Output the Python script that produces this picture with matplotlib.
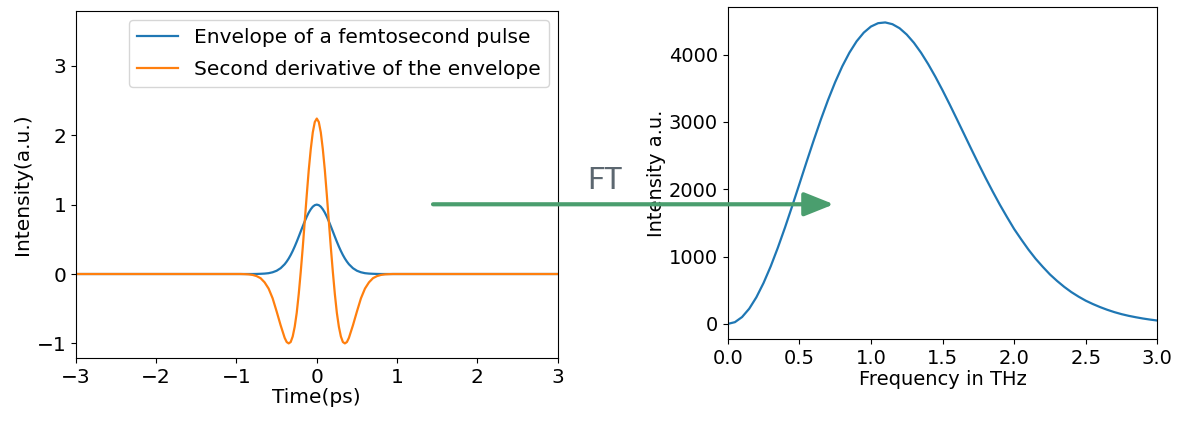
import matplotlib
matplotlib.use("Agg")
import matplotlib.pyplot as plt

# ---- Left panel data ----
time_ps = [-3.0, -1.0, -0.95, -0.9, -0.85, -0.8, -0.75, -0.7, -0.65, -0.6, -0.55, -0.5, -0.45,
           -0.4, -0.375, -0.35, -0.325, -0.3, -0.275, -0.25, -0.225, -0.2, -0.175, -0.15,
           -0.125, -0.1, -0.075, -0.05, -0.025, 0.0, 0.025, 0.05, 0.075, 0.1, 0.125, 0.15,
           0.175, 0.2, 0.225, 0.25, 0.275, 0.3, 0.325, 0.35, 0.375, 0.4, 0.45, 0.5, 0.55,
           0.6, 0.65, 0.7, 0.75, 0.8, 0.85, 0.9, 0.95, 1.0, 3.0]

envelope = [0.0, 0.0, 0.0, 0.0, 0.0, 0.0, 0.001, 0.003, 0.006, 0.012, 0.025, 0.047, 0.084,
            0.141, 0.179, 0.223, 0.274, 0.332, 0.396, 0.465, 0.538, 0.613, 0.687, 0.759,
            0.826, 0.885, 0.933, 0.970, 0.992, 1.0, 0.992, 0.970, 0.933, 0.885, 0.826, 0.759,
            0.687, 0.613, 0.538, 0.465, 0.396, 0.332, 0.274, 0.223, 0.179, 0.141, 0.084, 0.047,
            0.025, 0.012, 0.006, 0.003, 0.001, 0.0, 0.0, 0.0, 0.0, 0.0, 0.0]

second_deriv = [0.0, 0.0, 0.0, -0.002, -0.005, -0.013, -0.03, -0.06, -0.12, -0.21, -0.35, -0.54,
                -0.74, -0.92, -0.98, -1.00, -0.98, -0.90, -0.76, -0.56, -0.29, 0.03, 0.38, 0.76,
                1.14, 1.50, 1.80, 2.04, 2.19, 2.24, 2.19, 2.04, 1.80, 1.50, 1.14, 0.76,
                0.38, 0.03, -0.29, -0.56, -0.76, -0.90, -0.98, -1.00, -0.98, -0.92, -0.74, -0.54,
                -0.35, -0.21, -0.12, -0.06, -0.03, -0.013, -0.005, -0.002, 0.0, 0.0, 0.0]

# ---- Right panel data ----
freq_thz = [0.0, 0.05, 0.1, 0.15, 0.2, 0.25, 0.3, 0.35, 0.4, 0.45, 0.5, 0.55, 0.6, 0.65,
            0.7, 0.75, 0.8, 0.85, 0.9, 0.95, 1.0, 1.05, 1.1, 1.15, 1.2, 1.25, 1.3, 1.35,
            1.4, 1.45, 1.5, 1.55, 1.6, 1.65, 1.7, 1.75, 1.8, 1.85, 1.9, 1.95, 2.0, 2.05,
            2.1, 2.15, 2.2, 2.25, 2.3, 2.35, 2.4, 2.45, 2.5, 2.55, 2.6, 2.65, 2.7, 2.75,
            2.8, 2.85, 2.9, 2.95, 3.0]
spectrum = [0, 26, 102, 226, 396, 608, 855, 1133, 1433, 1750, 2076, 2404, 2725, 3035,
            3325, 3591, 3828, 4031, 4199, 4328, 4418, 4468, 4479, 4453, 4393, 4299, 4177, 4029,
            3859, 3672, 3471, 3260, 3042, 2822, 2601, 2384, 2172, 1968, 1772, 1588, 1410, 1254,
            1104, 968, 848, 735, 638, 550, 472, 405, 345, 295, 250, 210, 175, 145,
            120, 99, 80, 64, 50]

left_xticks = [-3, -2, -1, 0, 1, 2, 3]
left_yticks = [-1, 0, 1, 2, 3]
right_xticks = [0.0, 0.5, 1.0, 1.5, 2.0, 2.5, 3.0]
right_yticks = [0, 1000, 2000, 3000, 4000]

plt.rcParams['font.family'] = ['DejaVu Sans']
FS_L = 14.5
FS_R = 14

fig = plt.figure(figsize=(11.77, 4.24), dpi=100)

ax1 = fig.add_axes([0.0645, 0.1557, 0.4093, 0.8184])
ax1.plot(time_ps, envelope, color='#1f77b4', lw=1.6, label='Envelope of a femtosecond pulse')
ax1.plot(time_ps, second_deriv, color='#ff7f0e', lw=1.6, label='Second derivative of the envelope')
ax1.set_xlim(-3, 3)
ax1.set_ylim(-1.21, 3.79)
ax1.set_xticks(left_xticks)
ax1.set_yticks(left_yticks)
ax1.tick_params(labelsize=FS_L)
ax1.set_xlabel('Time(ps)', fontsize=FS_L, labelpad=1)
ax1.set_ylabel('Intensity(a.u.)', fontsize=FS_L, labelpad=3)
ax1.legend(loc='upper right', fontsize=FS_L, borderaxespad=0.45, labelspacing=0.63)

ax2 = fig.add_axes([0.6183, 0.2005, 0.365, 0.7823])
ax2.plot(freq_thz, spectrum, color='#1f77b4', lw=1.6)
ax2.set_xlim(0, 3)
ax2.set_ylim(-224, 4704)
ax2.set_xticks(right_xticks)
ax2.set_yticks(right_yticks)
ax2.tick_params(labelsize=FS_R)
ax2.set_xlabel('Frequency in THz', fontsize=FS_R, labelpad=2)
ax2.set_ylabel('Intensity a.u.', fontsize=FS_R, labelpad=2)

# FT arrow between the panels
ann = fig.add_artist(matplotlib.text.Annotation(
    '', xy=(0.7085, 0.5182), xytext=(0.3679, 0.5182),
    xycoords='figure fraction', textcoords='figure fraction',
    arrowprops=dict(arrowstyle='-|>,head_length=0.9,head_width=0.36', mutation_scale=20,
                    color='#4a9e6e', lw=3, shrinkA=0, shrinkB=0)))
ann.set_zorder(10)
fig.text(0.514, 0.575, 'FT', fontsize=22, color='#5c6770', ha='center', va='center',
         family=['Lato', 'DejaVu Sans'], zorder=10)

fig.savefig('out.png', dpi=100)
